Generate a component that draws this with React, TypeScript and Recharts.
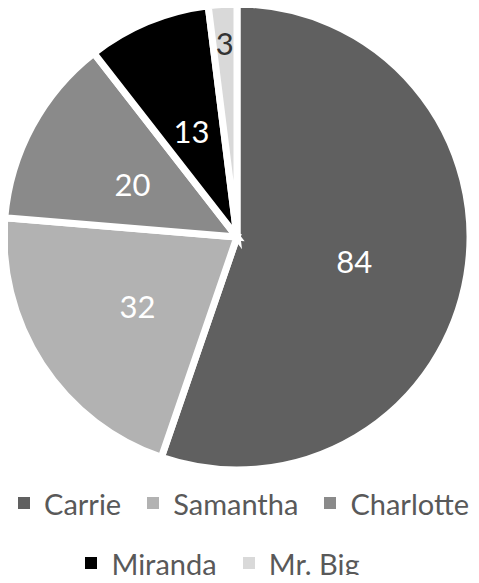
import { PieChart, Pie, Cell, Legend } from 'recharts';

const names = ['Carrie', 'Samantha', 'Charlotte', 'Miranda', 'Mr. Big'];
const values = [84, 32, 20, 13, 3];
const colors = ['#606060', '#b2b2b2', '#8a8a8a', '#000000', '#d9d9d9'];
const legendRows = [[0, 1, 2], [3, 4]];

const data = names.map((name, i) => ({ name, value: values[i] }));
const RAD = Math.PI / 180;
const FONT = 'Lato, "Open Sans", sans-serif';

const renderLabel = ({ cx, cy, midAngle, outerRadius, value }: any) => {
  // small slices get their label pushed out near the rim, like Excel's best fit
  const r = value < 5 ? outerRadius * 0.85 : outerRadius * 0.51;
  const x = cx + r * Math.cos(-midAngle * RAD);
  const y = cy + r * Math.sin(-midAngle * RAD) + 4;
  return (
    <text
      x={x}
      y={y}
      fill={value < 5 ? '#333333' : '#ffffff'}
      textAnchor="middle"
      dominantBaseline="central"
      fontFamily={FONT}
      fontSize={31}
    >
      {value}
    </text>
  );
};

// legend built from our own arrays so order matches the slices
const renderLegend = () => (
  <div style={{ fontFamily: FONT, fontSize: 29, color: '#595959' }}>
    {legendRows.map((row, ri) => (
      <div
        key={ri}
        style={{
          display: 'flex',
          justifyContent: 'center',
          gap: 26,
          height: 60,
          alignItems: 'center',
          paddingLeft: ri === 0 ? 8 : 0,
          paddingRight: ri === 1 ? 34 : 0,
        }}
      >
        {row.map((i) => (
          <div key={names[i]} style={{ display: 'flex', alignItems: 'center' }}>
            <span style={{ width: 12, height: 12, background: colors[i], marginRight: 14, display: 'inline-block' }} />
            <span>{names[i]}</span>
          </div>
        ))}
      </div>
    ))}
  </div>
);

export default function App() {
  return (
    <div style={{ margin: -8 }}>
      <PieChart width={479} height={583} margin={{ top: 0, right: 0, bottom: 0, left: 0 }}>
        <Pie
          data={data}
          dataKey="value"
          nameKey="name"
          cx={237}
          cy={237}
          outerRadius={233}
          startAngle={90}
          endAngle={-270}
          stroke="#ffffff"
          strokeWidth={7}
          label={renderLabel}
          labelLine={false}
          isAnimationActive={false}
        >
          {data.map((d, i) => (
            <Cell key={d.name} fill={colors[i]} />
          ))}
        </Pie>
        <Legend
          content={renderLegend}
          wrapperStyle={{ position: 'absolute', top: 473, left: 0, width: 479 }}
        />
      </PieChart>
    </div>
  );
}
